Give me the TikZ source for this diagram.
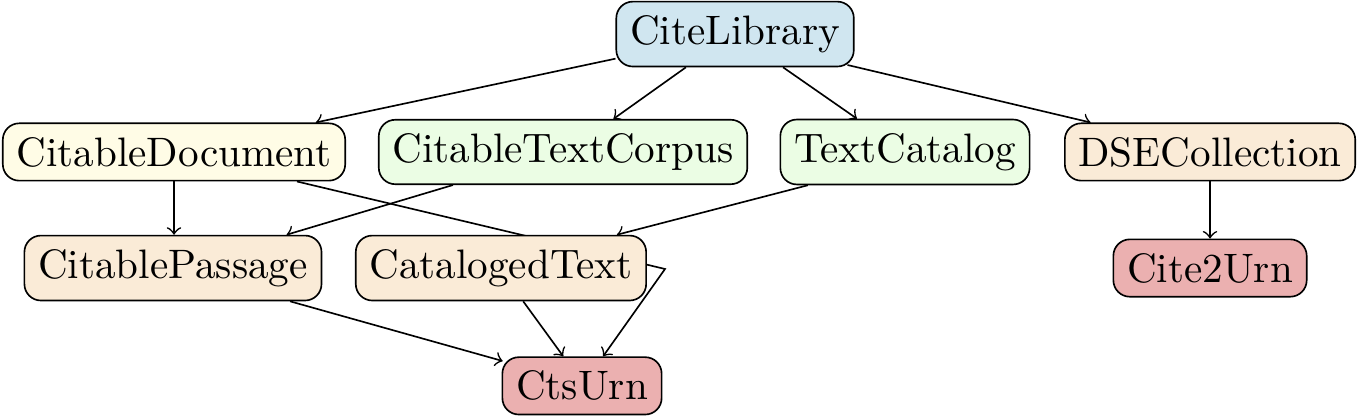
\documentclass[tikz,border=0pt]{standalone}
\usetikzlibrary{backgrounds}
\definecolor{libblue}{RGB}{208,230,240}
\definecolor{docyellow}{RGB}{255,252,230}
\definecolor{corpgreen}{RGB}{235,253,228}
\definecolor{passorange}{RGB}{250,235,215}
\definecolor{urnpink}{RGB}{235,176,176}
\tikzset{
  cls/.style={
    draw,
    rounded corners=4pt
  },
  edge/.style={->}
}

\begin{document}
\begin{tikzpicture}[x=1cm,y=1cm]
  \useasboundingbox (0,0) rectangle (11.588,3.561);

  % Top level.
  \node[cls,fill=libblue] (cl) at (6.277,3.27) {CiteLibrary};

  % Second row.
  \node[cls,fill=docyellow] (cd) at (1.486,2.263) {CitableDocument};
  \node[cls,fill=corpgreen] (ctc) at (4.808,2.263) {CitableTextCorpus};
  \node[cls,fill=corpgreen] (tc) at (7.728,2.263) {TextCatalog};
  \node[cls,fill=passorange] (dse) at (10.333,2.263) {DSECollection};

  % Third row.
  \node[cls,fill=passorange] (cp) at (1.477,1.272) {CitablePassage};
  \node[cls,fill=passorange] (ct) at (4.278,1.272) {CatalogedText};
  \node[cls,fill=urnpink] (c2) at (10.333,1.272) {Cite2Urn};

  % Bottom.
  \node[cls,fill=urnpink] (cts) at (4.970,0.266) {CtsUrn};

  \coordinate (kink) at (5.679,1.264);

  \begin{pgfonlayer}{background}
    \draw[edge] ([yshift=-0.21cm]cl.west) -- ([xshift=1.21cm]cd.north);
    \draw[edge] ([xshift=-0.42cm]cl.south) -- ([xshift=0.43cm]ctc.north);
    \draw[edge] ([xshift=0.41cm]cl.south) -- ([xshift=-0.41cm]tc.north);
    \draw[edge] ([xshift=0.96cm,yshift=0.02cm]cl.south) -- ([xshift=-1.02cm]dse.north);

    \draw[edge] (cd.south) -- (cd.south |- cp.north);
    \draw[edge] ([xshift=1.05cm]cd.south) -- (kink) -- ([xshift=0.18cm]cts.north);
    \draw[edge] ([xshift=-0.94cm]ctc.south) -- ([xshift=0.97cm]cp.north);
    \draw[edge] ([xshift=-0.83cm]tc.south) -- ([xshift=0.99cm]ct.north);
    \draw[edge] (dse.south) -- (c2.north);

    \draw[edge] ([xshift=1.0cm]cp.south) -- ([xshift=0.01cm,yshift=-0.04cm]cts.north west);
    \draw[edge] ([xshift=0.19cm]ct.south) -- ([xshift=-0.16cm]cts.north);
  \end{pgfonlayer}
\end{tikzpicture}
\end{document}
